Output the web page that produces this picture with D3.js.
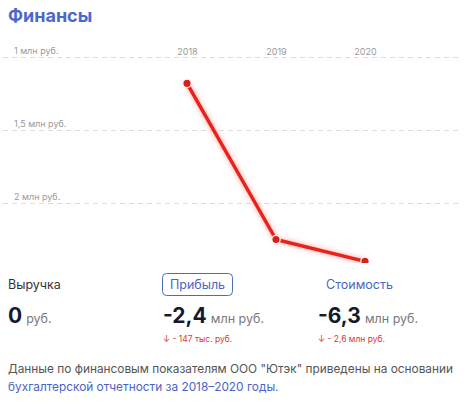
<!DOCTYPE html>
<html><head><meta charset="utf-8">
<script src="https://cdn.jsdelivr.net/npm/d3@7"></script>
<style>
html,body{margin:0;padding:0;background:#fff;}
svg{display:block;font-family:Inter,"Open Sans",sans-serif;}
</style></head>
<body>
<svg id="c" width="466" height="408"></svg>
<script>
const years = ["2018", "2019", "2020"];
const profit = [-1.18, -2.25, -2.40];           // млн руб.
const tickValues = [-1, -1.5, -2];
const tickLabels = ["1 млн руб.", "1,5 млн руб.", "2 млн руб."];
const metricNames = ["Выручка", "Прибыль", "Стоимость"];
const metricValues = ["0", "-2,4", "-6,3"];
const metricUnits = ["руб.", "млн руб.", "млн руб."];
const metricDeltas = ["", "↓ - 147 тыс. руб.", "↓ - 2,6 млн руб."];

const svg = d3.select("#c");
const defs = svg.append("defs");
const f = defs.append("filter").attr("id","glow").attr("x","-20%").attr("y","-20%").attr("width","140%").attr("height","140%");
f.append("feDropShadow").attr("dx",0).attr("dy",0).attr("stdDeviation",2.5).attr("flood-color","#ff3b30").attr("flood-opacity",0.55);
defs.append("clipPath").attr("id","clip").append("rect").attr("x",0).attr("y",30).attr("width",466).attr("height",233);

svg.append("text").attr("x",8).attr("y",22).text("Финансы")
  .attr("font-size",18).attr("font-weight",700).attr("fill","#4c68cc");

const x = d3.scalePoint().domain(years).range([187, 365]);
const y = d3.scaleLinear().domain([-1, -2]).range([57, 203]);

// gridlines
const yAxis = d3.axisLeft(y).tickValues(tickValues).tickSize(0).tickFormat((d,i)=>tickLabels[i]);
const gy = svg.append("g").call(yAxis);
gy.select(".domain").remove();
gy.selectAll(".tick line").remove();
gy.selectAll(".tick").each(function(d){
  const g = d3.select(this);
  g.append("line").attr("x1",3).attr("x2",460).attr("y1",0).attr("y2",0)
   .attr("stroke","#dcdcdc").attr("stroke-width",1).attr("stroke-dasharray","5,4");
  g.select("text").attr("x",14).attr("y",-6).attr("text-anchor","start")
   .attr("font-size",9).attr("fill","#9a9a9a").attr("font-family","Inter,sans-serif");
});

// year axis
const xAxis = d3.axisTop(x).tickSize(0);
const gx = svg.append("g").attr("transform","translate(0,52)").call(xAxis);
gx.select(".domain").remove();
gx.selectAll(".tick text").attr("y",0).attr("dy","0.35em").attr("font-size",9).attr("fill","#9a9a9a").attr("font-family","Inter,sans-serif");

const plot = svg.append("g").attr("clip-path","url(#clip)");
const line = d3.line().x((d,i)=>x(years[i])).y(d=>y(d));
plot.append("path").datum(profit).attr("d",line).attr("fill","none")
  .attr("stroke","#e8221b").attr("stroke-width",3.5).attr("stroke-linejoin","round")
  .attr("filter","url(#glow)");
plot.selectAll("circle").data(profit).join("circle")
  .attr("cx",(d,i)=>x(years[i])).attr("cy",d=>y(d)).attr("r",4.2)
  .attr("fill","#d91f1a").attr("stroke","#fff").attr("stroke-width",1.2);

// metrics
const mx = [8, 163, 318];
const mg = svg.append("g");
metricNames.forEach((n,i)=>{
  if(i===1){
    mg.append("rect").attr("x",162.5).attr("y",273.5).attr("width",70).attr("height",22).attr("rx",4)
      .attr("fill","none").attr("stroke","#4a6fb0").attr("stroke-width",1);
  }
  mg.append("text").attr("x", i===1 ? 197.5 : (i===2 ? 326 : mx[i])).attr("y",289)
    .attr("text-anchor", i===1 ? "middle" : "start")
    .attr("font-size",12.5).attr("fill", i===0 ? "#333" : "#4a64c6").text(n);
  const t = mg.append("text").attr("x",mx[i]).attr("y",323);
  t.append("tspan").attr("font-size",21).attr("font-weight",700).attr("fill","#161a2e").text(metricValues[i]);
  t.append("tspan").attr("dx",4).attr("font-size",12.5).attr("fill","#7a7a7a").text(metricUnits[i]);
  if(metricDeltas[i]){
    mg.append("text").attr("x",mx[i]).attr("y",342).attr("font-size",8.5).attr("fill","#e0332b").text(metricDeltas[i]);
  }
});

svg.append("text").attr("x",8).attr("y",373).attr("font-size",11.85).attr("fill","#555")
  .text('Данные по финансовым показателям ООО "Ютэк" приведены на основании');
svg.append("text").attr("x",8).attr("y",391).attr("font-size",11.85).attr("fill","#4a64c6")
  .text('бухгалтерской отчетности за 2018–2020 годы.');
</script>
</body></html>
